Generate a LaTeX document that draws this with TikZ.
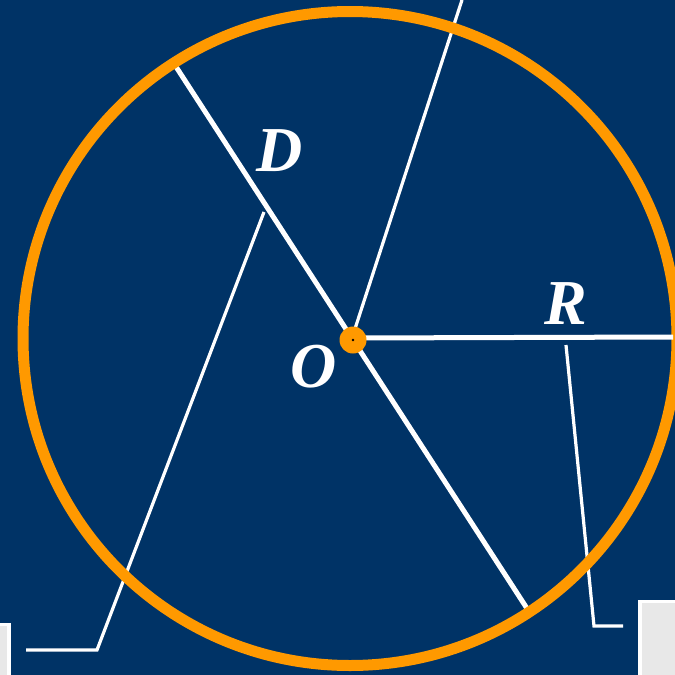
\documentclass[tikz,border=0pt]{standalone}
\usepackage{fontspec}
\setmainfont{Liberation Serif}
\definecolor{bgblue}{RGB}{0,51,102}
\definecolor{orng}{RGB}{255,153,0}
\definecolor{lgray}{RGB}{232,232,232}
\begin{document}
\begin{tikzpicture}[x=1pt,y=-1pt,
  thick line/.style={draw=white,line width=5pt},
  thin line/.style={draw=white,line width=3.2pt},
  lbl/.style={text=white,font=\fontsize{64}{66}\selectfont\bfseries\itshape,inner sep=0pt},
  graybox/.style={draw=white,fill=lgray,line width=3.5pt}]
\useasboundingbox (0,0) rectangle (675,675);
\fill[bgblue] (0,0) rectangle (675,675);
\coordinate (O) at (352,338);
\coordinate (Dtop) at (171,59);
\coordinate (Dbot) at (528,610);
\coordinate (Ttop) at (462,0);
\coordinate (Rend) at (673,337);
\coordinate (L1a) at (264,212);
\coordinate (L1b) at (97,650);
\coordinate (L1c) at (26,650);
\coordinate (L2a) at (566,345);
\coordinate (L2b) at (594,626);
\coordinate (L2c) at (623,626);
% lines under circle
\draw[thick line] (Dtop) -- (Dbot);
\draw[thin line] (O) -- (Ttop);
\draw[thin line] (L1a) -- (L1b) -- (L1c);
\draw[thin line] (L2a) -- (L2b) -- (L2c);
% circle
\draw[orng,line width=11pt] (350,338.5) circle[radius=327];
% radius on top
\draw[thick line] (O) -- (Rend);
% centre
\fill[orng] (353,340) circle[radius=13.5];
\fill[black] (353,340) circle[radius=1.3];
% gray boxes
\draw[graybox] (-5,624.5) rectangle (9,680);
\draw[graybox] (640,601.5) rectangle (680,680);
% labels
\node[lbl] (D) at (280,151) {D};
\node[lbl] (R) at (566,304) {R};
\node[lbl] (Olbl) at (314,367) {O};
\end{tikzpicture}
\end{document}
